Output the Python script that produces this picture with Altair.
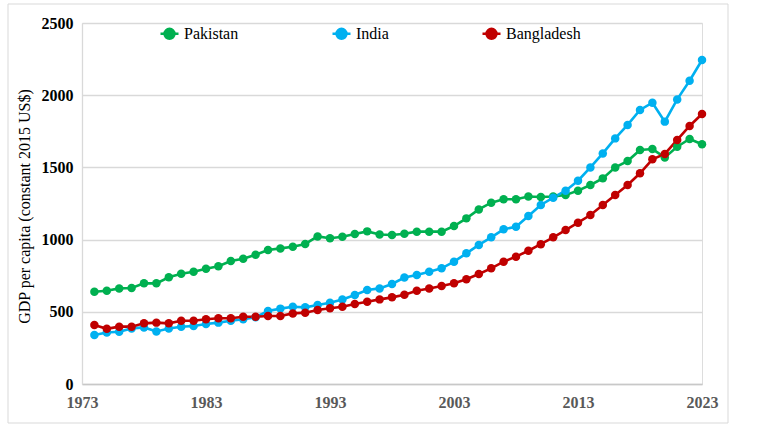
import altair as alt
import pandas as pd

years = list(range(1974, 2024))

pakistan = [639, 646, 662, 665, 697, 697, 739, 763, 778, 798,
            815, 852, 868, 895, 928, 939, 951, 970, 1022, 1009,
            1020, 1039, 1057, 1035, 1032, 1040,
            1055, 1055, 1055, 1094, 1147, 1209, 1256, 1279, 1279, 1298,
            1295, 1298, 1309, 1339, 1378, 1424, 1500, 1544, 1620, 1627,
            1569, 1643, 1697, 1660]

india = [339, 357, 362, 385, 392, 364, 385, 397, 402, 416,
         425, 438, 448, 462, 505, 522, 535, 531, 547, 563,
         586, 616, 651, 662, 693, 737,
         755, 778, 801, 847, 905, 963, 1016, 1071, 1089, 1163,
         1240, 1290, 1339, 1408, 1500, 1597, 1701, 1794, 1898, 1948,
         1817, 1971, 2100, 2244]

bangladesh = [409, 382, 397, 397, 420, 425, 420, 438, 438, 448,
              455, 455, 466, 466, 471, 471, 489, 494, 512, 524,
              535, 554, 570, 586, 600, 618,
              646, 662, 679, 697, 725, 762, 801, 847, 882, 923,
              968, 1016, 1066, 1117, 1170, 1240, 1309, 1378, 1459, 1556,
              1593, 1690, 1787, 1870]

countries = ["Pakistan", "India", "Bangladesh"]
colors = ["#00B050", "#00B0F0", "#C00000"]
x_ticks = [1973, 1983, 1993, 2003, 2013, 2023]
y_ticks = [0, 500, 1000, 1500, 2000, 2500]

rows = []
for name, series in zip(countries, [pakistan, india, bangladesh]):
    for yr, v in zip(years, series):
        rows.append({"year": yr, "country": name, "gdp": v})
df = pd.DataFrame(rows)

FONT = "Liberation Serif"
legend_path = "M-1,0L1,0M-0.55,0A0.55,0.55,0,1,0,0.55,0A0.55,0.55,0,1,0,-0.55,0Z"

x_enc = alt.X("year:Q",
              scale=alt.Scale(domain=[1973, 2023], nice=False, zero=False),
              axis=alt.Axis(values=x_ticks, format="d", title=None, grid=False,
                            ticks=False, domainColor="#c8c8c8", domainWidth=1.3,
                            labelFlush=False, labelOverlap=False,
                            labelFont=FONT, labelFontSize=16, labelFontWeight="bold",
                            labelColor="#595959", labelPadding=10))
y_enc = alt.Y("gdp:Q",
              scale=alt.Scale(domain=[0, 2500], nice=False),
              axis=alt.Axis(values=y_ticks, format="d", title="GDP per capita (constant 2015 US$)",
                            grid=True, gridColor="#d9d9d9", gridWidth=1.3,
                            ticks=False, domainColor="#d9d9d9", domainWidth=1.3,
                            labelFlush=False, labelOverlap=False,
                            labelFont=FONT, labelFontSize=16, labelFontWeight="bold",
                            labelColor="#000000", labelPadding=9,
                            titleFont=FONT, titleFontSize=16, titleFontWeight="normal",
                            titleColor="#000000", titleAngle=-90, titleX=-58, titleY=183,
                            titleAlign="center", titleBaseline="middle"))
color_enc = alt.Color("country:N",
                      scale=alt.Scale(domain=countries, range=colors),
                      legend=alt.Legend(title=None, orient="none", legendX=77, legendY=0,
                                        direction="horizontal", columnPadding=88,
                                        labelFont=FONT, labelFontSize=16, labelColor="#000000",
                                        labelFontWeight="normal",
                                        labelOffset=4, symbolType=legend_path, symbolSize=324,
                                        symbolStrokeWidth=2.5, padding=0))

base = alt.Chart(df)
lines = base.mark_line(strokeWidth=2.6).encode(x=x_enc, y=y_enc, color=color_enc)
points = base.mark_point(filled=True, size=72, opacity=1).encode(x=x_enc, y=y_enc, color=color_enc)

border = alt.Chart(alt.Data(values=[{"a": 1}])).mark_rect(
    fill="transparent", stroke="#d9d9d9", strokeWidth=1
).encode(x=alt.value(-74), x2=alt.value(646), y=alt.value(-19), y2=alt.value(400))

chart = alt.layer(border, lines, points).properties(
    width=620, height=361,
    autosize=alt.AutoSizeParams(type="none"),
    padding={"left": 82, "top": 23, "right": 58, "bottom": 55},
    background="white",
).configure_view(strokeWidth=0).configure_legend(
    labelFont=FONT, labelFontSize=16, labelColor="#000000"
).configure(font=FONT)

chart.save("out.html", embed_options={"renderer": "svg", "actions": False})
